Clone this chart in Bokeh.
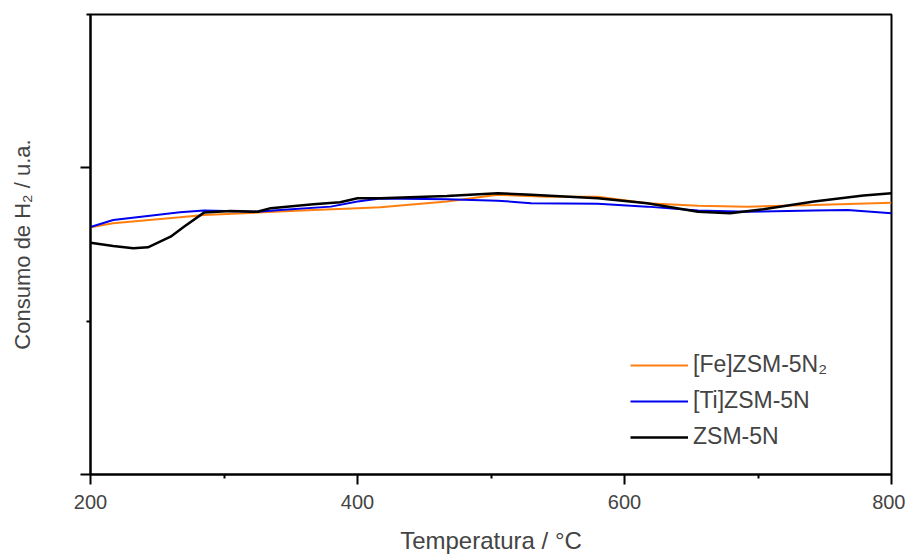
from bokeh.plotting import figure
from bokeh.models import FixedTicker, Legend, LegendItem
from bokeh.embed import file_html
from bokeh.resources import INLINE

# Temperature (°C) and H2 consumption (a.u.)
t_fe = [200, 217, 267, 285, 325, 367, 400, 417, 467, 505, 542, 580, 617, 655, 692, 742, 800]
v_fe = [1.612, 1.639, 1.678, 1.693, 1.708, 1.725, 1.737, 1.743, 1.780, 1.824, 1.812, 1.812,
        1.769, 1.752, 1.747, 1.758, 1.773]

t_ti = [200, 217, 267, 285, 325, 342, 380, 400, 417, 467, 505, 530, 580, 617, 655, 692, 742, 767, 800]
v_ti = [1.614, 1.660, 1.710, 1.721, 1.714, 1.725, 1.747, 1.780, 1.800, 1.795, 1.786, 1.769,
        1.765, 1.747, 1.721, 1.714, 1.721, 1.725, 1.704]

t_zsm = [200, 217, 232, 243, 260, 270, 285, 305, 325, 335, 367, 387, 400, 417, 467, 505, 530,
         580, 617, 655, 679, 704, 742, 779, 800]
v_zsm = [1.512, 1.490, 1.475, 1.482, 1.551, 1.616, 1.708, 1.719, 1.714, 1.737, 1.763, 1.776,
         1.802, 1.802, 1.817, 1.835, 1.824, 1.802, 1.769, 1.714, 1.704, 1.730, 1.780, 1.820, 1.835]

labels = ["[Fe]ZSM-5N₂", "[Ti]ZSM-5N", "ZSM-5N"]
colors = ["#FF7F0E", "#0000EE", "#000000"]
x_ticks = [200, 400, 600, 800]
x_minor = [300, 500, 700]

FONT = "Liberation Sans"

p = figure(width=905, height=557, x_range=(200, 800), y_range=(0, 3),
           output_backend="svg", toolbar_location=None,
           min_border_left=90, min_border_right=14, min_border_top=14, min_border_bottom=83)
p.background_fill_color = "white"
p.border_fill_color = "white"
p.outline_line_color = "black"
p.outline_line_width = 2
p.xgrid.visible = False
p.ygrid.visible = False

r_fe = p.line(t_fe, v_fe, line_color=colors[0], line_width=2)
r_ti = p.line(t_ti, v_ti, line_color=colors[1], line_width=2)
r_zsm = p.line(t_zsm, v_zsm, line_color=colors[2], line_width=2.5)

xa = p.xaxis[0]
xa.ticker = FixedTicker(ticks=x_ticks, minor_ticks=x_minor)
xa.axis_label = "Temperatura / °C"
xa.axis_label_text_font = FONT
xa.axis_label_text_font_style = "normal"
xa.axis_label_text_font_size = "24px"
xa.axis_label_text_line_height = 0.7
xa.axis_label_standoff = 15
xa.major_label_text_font = FONT
xa.major_label_text_font_size = "20px"
xa.major_label_text_line_height = 0.9
xa.major_label_standoff = 10
xa.major_tick_out = 10
xa.major_tick_in = 0
xa.minor_tick_out = 4
xa.minor_tick_in = 0
xa.axis_line_width = 2
xa.major_tick_line_width = 2
xa.minor_tick_line_width = 2

ya = p.yaxis[0]
ya.ticker = FixedTicker(ticks=[0, 2], minor_ticks=[1, 3])
ya.major_label_overrides = {0: "", 2: ""}
ya.major_label_standoff = 0
ya.axis_label = "Consumo de H₂ / u.a."
ya.axis_label_text_font = FONT
ya.axis_label_text_font_style = "normal"
ya.axis_label_text_font_size = "22px"
ya.axis_label_standoff = 46
ya.major_tick_out = 10
ya.major_tick_in = 0
ya.minor_tick_out = 4
ya.minor_tick_in = 0
ya.axis_line_width = 2
ya.major_tick_line_width = 2
ya.minor_tick_line_width = 2

legend = Legend(items=[LegendItem(label=labels[0], renderers=[r_fe]),
                       LegendItem(label=labels[1], renderers=[r_ti]),
                       LegendItem(label=labels[2], renderers=[r_zsm])],
                location=(540, 24))
legend.border_line_color = None
legend.background_fill_alpha = 0
legend.padding = 0
legend.margin = 0
legend.spacing = 9
legend.glyph_width = 58
legend.glyph_height = 20
legend.label_standoff = 5
legend.label_text_font = FONT
legend.label_text_font_size = "23px"
p.add_layout(legend, "center")

open("out.html", "w").write(file_html(p, INLINE))
